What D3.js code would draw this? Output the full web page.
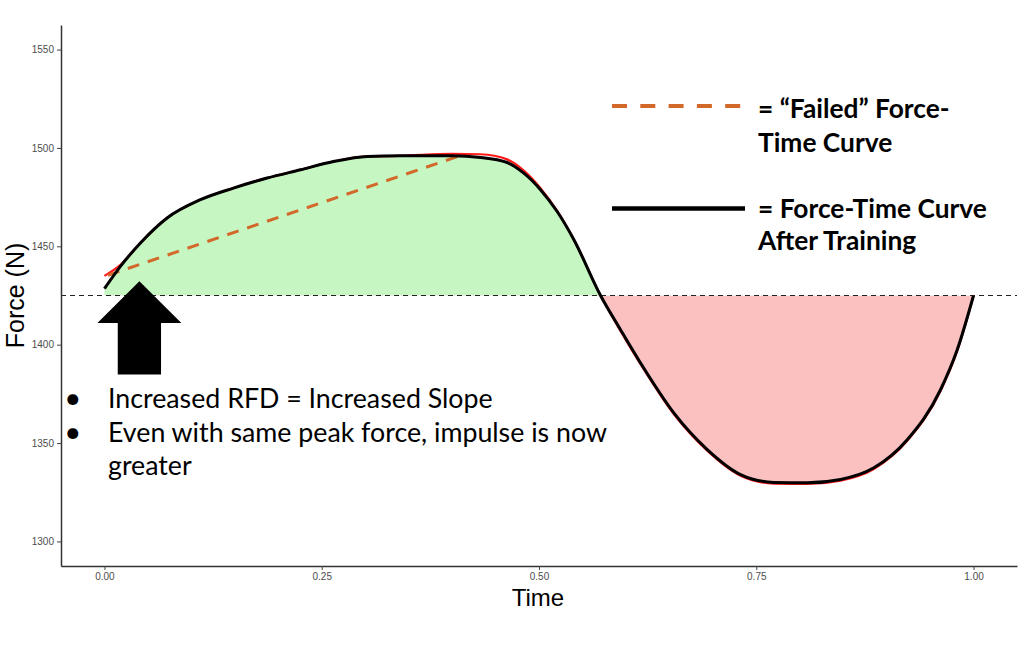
<!DOCTYPE html>
<html><head><meta charset="utf-8">
<script src="https://cdn.jsdelivr.net/npm/d3@7"></script>
<style>body{margin:0;background:#fff}svg{display:block}</style>
</head><body><svg id="c" width="1024" height="650"></svg>
<script>
// ---- data ----
const time = [0, 0.0184, 0.0414, 0.0721, 0.1105, 0.1484, 0.1872, 0.2255, 0.2635, 0.3023, 0.3406, 0.40, 0.4327, 0.4634, 0.4825, 0.5017, 0.5209, 0.5400, 0.5708, 0.5938, 0.6168, 0.6551, 0.6936, 0.7319, 0.7702, 0.8086, 0.8470, 0.8853, 0.9237, 0.9620, 0.9812, 1.0];
const force = [1428.5, 1439.8, 1451.7, 1464.4, 1473.7, 1479.6, 1484.7, 1488.9, 1493.1, 1495.7, 1496.0, 1496.0, 1495.2, 1492.6, 1487.2, 1478.8, 1467.7, 1453.5, 1425.0, 1407.6, 1390.7, 1365.3, 1346.7, 1334.0, 1330.0, 1329.8, 1331.5, 1337.4, 1351.7, 1377.1, 1397.4, 1425.0];
const failedForce = [1435.0, 1440.6, 1451.7, 1464.4, 1473.7, 1479.6, 1484.7, 1488.9, 1493.1, 1495.7, 1496.0, 1497.0, 1496.8, 1494.2, 1488.5, 1479.6, 1468.0, 1453.5, 1425.0, 1407.0, 1390.1, 1364.7, 1346.1, 1333.4, 1329.4, 1329.2, 1330.9, 1336.8, 1351.1, 1376.5, 1396.8, 1425.0];
const failedLineTime = [0.004, 0.412];
const failedLineForce = [1435.3, 1496.5];
const baselineForce = 1425;
const xTicks = [0, 0.25, 0.5, 0.75, 1.0];
const yTicks = [1300, 1350, 1400, 1450, 1500, 1550];
const bulletLines = ["Increased RFD = Increased Slope", "Even with same peak force, impulse is now", "greater"];
const legendLabels = [["= \u201CFailed\u201D Force-", "Time Curve"], ["= Force-Time Curve", "After Training"]];
// arrow annotation (data units)
const arrowT = 0.0402, arrowTip = 1432.2, arrowHeadBase = 1411.0, arrowBottom = 1384.8, arrowHeadHalf = 0.0483, arrowShaftHalf = 0.0249;

// ---- scales ----
const svg = d3.select('#c');
const x = d3.scaleLinear().domain([-0.05, 1.05]).range([61, 1017]);
const y = d3.scaleLinear().domain([1287.5, 1562.5]).range([566, 25]);

const pts = time.map((t, i) => [t, force[i]]);
const fpts = time.map((t, i) => [t, failedForce[i]]);
const curve = d3.curveMonotoneX;

const defs = svg.append('defs');
defs.append('clipPath').attr('id', 'above').append('rect')
  .attr('x', 0).attr('y', 0).attr('width', 1024).attr('height', y(baselineForce));
defs.append('clipPath').attr('id', 'below').append('rect')
  .attr('x', 0).attr('y', y(baselineForce)).attr('width', 1024).attr('height', 650);

const area = d3.area().x(d => x(d[0])).y0(y(baselineForce)).y1(d => y(d[1])).curve(curve);
svg.append('path').datum(pts).attr('d', area).attr('fill', '#c6f7c3').attr('clip-path', 'url(#above)');
svg.append('path').datum(pts).attr('d', area).attr('fill', '#fbc0c0').attr('clip-path', 'url(#below)');

// baseline dashed
svg.append('line').attr('x1', x.range()[0]).attr('x2', x.range()[1])
  .attr('y1', y(baselineForce)).attr('y2', y(baselineForce))
  .attr('stroke', '#222').attr('stroke-width', 1.2).attr('stroke-dasharray', '5,4');

const line = d3.line().x(d => x(d[0])).y(d => y(d[1])).curve(curve);
// failed curve (red)
svg.append('path').datum(fpts).attr('d', line).attr('fill', 'none')
  .attr('stroke', '#ff1a1a').attr('stroke-width', 2.2);
// orange dashed overlay
svg.append('path').datum(failedLineTime.map((t, i) => [t, failedLineForce[i]]))
  .attr('d', d3.line().x(d => x(d[0])).y(d => y(d[1])))
  .attr('fill', 'none').attr('stroke', '#d2692a').attr('stroke-width', 3)
  .attr('stroke-dasharray', '12,9');
// trained curve (black)
svg.append('path').datum(pts).attr('d', line).attr('fill', 'none')
  .attr('stroke', '#000').attr('stroke-width', 3);

// arrow
const arrowPts = [
  [arrowT, arrowTip],
  [arrowT + arrowHeadHalf, arrowHeadBase],
  [arrowT + arrowShaftHalf, arrowHeadBase],
  [arrowT + arrowShaftHalf, arrowBottom],
  [arrowT - arrowShaftHalf, arrowBottom],
  [arrowT - arrowShaftHalf, arrowHeadBase],
  [arrowT - arrowHeadHalf, arrowHeadBase]
];
svg.append('polygon').attr('points', arrowPts.map(p => [x(p[0]), y(p[1])].join(',')).join(' ')).attr('fill', '#000');

// axes
const axFont = '"Liberation Sans", Arial, sans-serif';
const gx = svg.append('g').attr('transform', `translate(0,566)`)
  .call(d3.axisBottom(x).tickValues(xTicks).tickFormat(d3.format('.2f')).tickSize(4).tickSizeOuter(0).tickPadding(3));
const gy = svg.append('g').attr('transform', `translate(61,0)`)
  .call(d3.axisLeft(y).tickValues(yTicks).tickFormat(d3.format('d')).tickSize(4).tickSizeOuter(0).tickPadding(3));
[gx, gy].forEach(g => {
  g.select('.domain').attr('stroke', '#333').attr('stroke-width', 1.5);
  g.selectAll('.tick line').attr('stroke', '#444').attr('stroke-width', 1);
  g.selectAll('.tick text').attr('fill', '#4d4d4d').style('font-family', axFont).style('font-size', '10px');
});

svg.append('text').attr('x', (x.range()[0] + x.range()[1]) / 2 - 1).attr('y', 606)
  .attr('text-anchor', 'middle').style('font-family', axFont).style('font-size', '24px').attr('fill', '#000').text('Time');
svg.append('text').attr('transform', `translate(24,${(y.range()[0] + y.range()[1]) / 2}) rotate(-90)`)
  .attr('text-anchor', 'middle').style('font-family', axFont).style('font-size', '25px').attr('fill', '#000').text('Force (N)');

// bullet annotations
const txtFont = 'Lato, "Open Sans", sans-serif';
const bulletG = svg.append('g');
const bulletBaselines = [407.5, 441.5, 474.5];
const bt = bulletG.selectAll('text.l').data(bulletLines).enter().append('text').attr('class', 'l')
  .attr('x', 108).attr('y', (d, i) => bulletBaselines[i])
  .style('font-family', txtFont).style('font-size', '24px').attr('fill', '#000').text(d => d);
{
  const w = bt.nodes()[1].getComputedTextLength();
  const fs = 24 * 499 / w;
  bt.style('font-size', fs + 'px');
  bulletG.selectAll('text.b').data([0, 1]).enter().append('text').attr('class', 'b')
    .attr('x', 72.7).attr('y', (d, i) => bulletBaselines[i]).attr('text-anchor', 'middle')
    .style('font-family', txtFont).style('font-size', (fs * 1.1) + 'px').attr('fill', '#000').text('\u2022');
}

// legend
const legG = svg.append('g');
legG.append('line').attr('x1', 612).attr('x2', 742).attr('y1', 106).attr('y2', 106)
  .attr('stroke', '#d2692a').attr('stroke-width', 4).attr('stroke-dasharray', '15,13.3');
legG.append('line').attr('x1', 612).attr('x2', 745).attr('y1', 208.5).attr('y2', 208.5)
  .attr('stroke', '#000').attr('stroke-width', 4.5);
const legBase = [[118.3, 151.7], [218.3, 250]];
const legTexts = [];
legendLabels.forEach((pair, i) => pair.forEach((s, j) => {
  legTexts.push(legG.append('text').attr('x', 758).attr('y', legBase[i][j])
    .style('font-family', txtFont).style('font-weight', 'bold').style('font-size', '24px')
    .attr('fill', '#000').text(s).node());
}));
{
  const w = legTexts[2].getComputedTextLength();
  const fs = 24 * 229 / w;
  legTexts.forEach(n => n.style.fontSize = fs + 'px');
}
</script>
</body></html>
